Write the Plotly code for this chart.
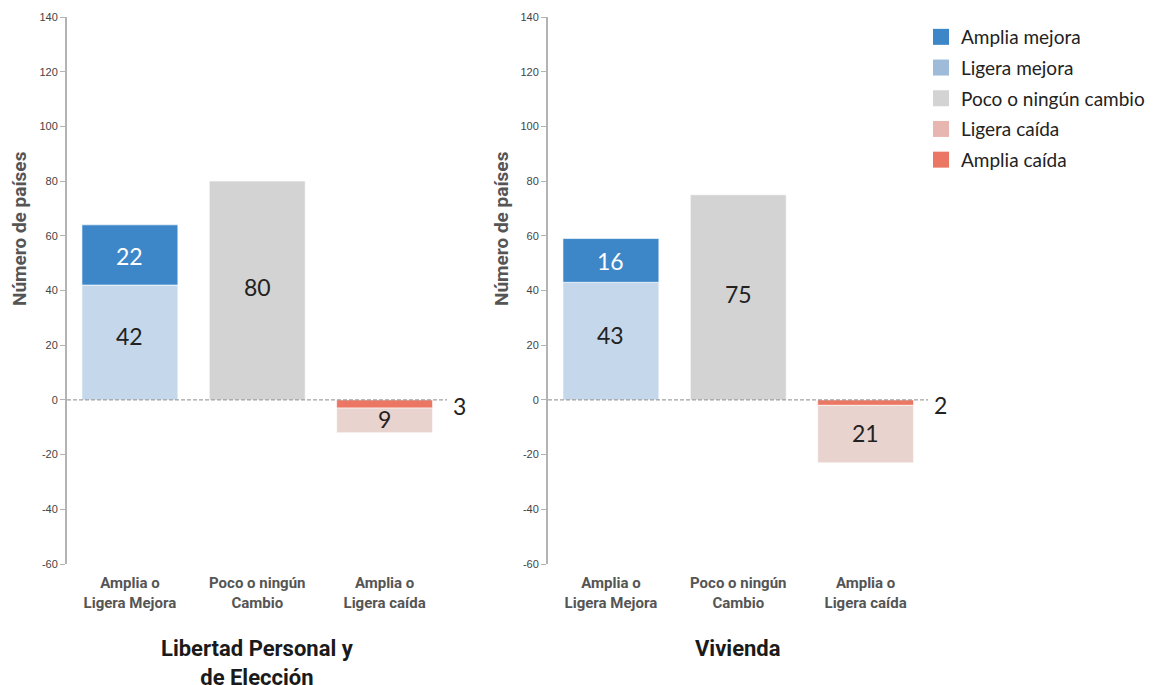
import plotly.graph_objects as go

# ---------------- data ----------------
categories = ["Amplia o<br>Ligera Mejora", "Poco o ningún<br>Cambio", "Amplia o<br>Ligera caída"]
panels = ["Libertad Personal y<br>de Elección", "Vivienda"]
amplia_mejora = [22, 16]
ligera_mejora = [42, 43]
poco_cambio = [80, 75]
ligera_caida = [9, 21]
amplia_caida = [3, 2]
series_names = ["Amplia mejora", "Ligera mejora", "Poco o ningún cambio", "Ligera caída", "Amplia caída"]
y_ticks = [-60, -40, -20, 0, 20, 40, 60, 80, 100, 120, 140]
y_title = "Número de países"

# ---------------- style ----------------
C_AM = "#3d87c8"
C_LM_BAR = "#c5d7ea"
C_LM_LEG = "#9ebcda"
C_PC = "#d3d3d3"
C_LC_BAR = "#e9d3cf"
C_LC_LEG = "#e8b6b0"
C_AC = "#ec7664"
W = 1160
H = 685
TICK_FONT = "Liberation Sans Narrow, Arial Narrow, sans-serif"
LABEL_FONT = "Lato, Open Sans, sans-serif"
BOLD_FONT = "Roboto, Arial, sans-serif"

fig = go.Figure()

x_domains = [[67 / W, 447 / W], [548 / W, 928 / W]]
y_domain = [1 - 564 / H, 1 - 17 / H]
bar_w = 0.753
line_style = dict(color="rgba(255,255,255,0.6)", width=1)

for i in range(2):
    xa = "x" if i == 0 else "x2"
    ya = "y" if i == 0 else "y2"
    # positives (bottom first)
    fig.add_trace(go.Bar(x=[categories[0]], y=[ligera_mejora[i]], marker=dict(color=C_LM_BAR, line=line_style),
                         width=bar_w, xaxis=xa, yaxis=ya, showlegend=False, hoverinfo="skip"))
    fig.add_trace(go.Bar(x=[categories[0]], y=[amplia_mejora[i]], marker=dict(color=C_AM, line=line_style),
                         width=bar_w, xaxis=xa, yaxis=ya, showlegend=False, hoverinfo="skip"))
    fig.add_trace(go.Bar(x=[categories[1]], y=[poco_cambio[i]], marker=dict(color=C_PC, line=line_style),
                         width=bar_w, xaxis=xa, yaxis=ya, showlegend=False, hoverinfo="skip"))
    # negatives (nearest zero first)
    fig.add_trace(go.Bar(x=[categories[2]], y=[-amplia_caida[i]], marker=dict(color=C_AC, line=line_style),
                         width=bar_w, xaxis=xa, yaxis=ya, showlegend=False, hoverinfo="skip"))
    fig.add_trace(go.Bar(x=[categories[2]], y=[-ligera_caida[i]], marker=dict(color=C_LC_BAR, line=line_style),
                         width=bar_w, xaxis=xa, yaxis=ya, showlegend=False, hoverinfo="skip"))

    # value labels
    label_font = dict(family=LABEL_FONT, size=23, color="#222222")
    fig.add_annotation(x=0, y=ligera_mejora[i] / 2, xref=xa, yref=ya, text=str(ligera_mejora[i]),
                       showarrow=False, font=label_font, yshift=6)
    fig.add_annotation(x=0, y=ligera_mejora[i] + amplia_mejora[i] / 2, xref=xa, yref=ya, text=str(amplia_mejora[i]),
                       showarrow=False, font=dict(family=LABEL_FONT, size=23, color="white"), yshift=-1)
    fig.add_annotation(x=1, y=poco_cambio[i] / 2, xref=xa, yref=ya, text=str(poco_cambio[i]),
                       showarrow=False, font=label_font, yshift=3)
    fig.add_annotation(x=2, y=-amplia_caida[i] - ligera_caida[i] / 2, xref=xa, yref=ya, text=str(ligera_caida[i]),
                       showarrow=False, font=label_font, yshift=1)
    fig.add_annotation(x=2.49, y=-amplia_caida[i] / 2, xref=xa, yref=ya, text=str(amplia_caida[i]),
                       showarrow=False, xanchor="left", xshift=4, yshift=-2, font=label_font)

    # dashed zero line
    fig.add_shape(type="line", xref=f"{xa} domain", yref=ya, x0=0, x1=1, y0=0, y1=0,
                  line=dict(color="#8a8a8a", width=1, dash="4px,2px"), layer="above")

    # panel title
    fig.add_annotation(x=1, y=1 - 634 / H, xref=xa, yref="paper", text="<b>" + panels[i] + "</b>",
                       showarrow=False, yanchor="top",
                       font=dict(family=BOLD_FONT, size=22, color="#1a1a1a"))
    # y axis title
    fig.add_annotation(x=(19 if i == 0 else 501) / W, y=1 - 229 / H, xref="paper", yref="paper",
                       xanchor="center", yanchor="middle",
                       text="<b>" + y_title + "</b>", textangle=-90, showarrow=False,
                       font=dict(family=BOLD_FONT, size=19, color="#555555"))

axis_x = dict(type="category", categoryorder="array", categoryarray=categories, range=[-0.494, 2.49],
              showline=False, ticks="", showgrid=False, zeroline=False, ticklabelstandoff=8,
              automargin=False,
              tickfont=dict(family=BOLD_FONT, size=15, color="#555555", weight="bold"))
axis_y = dict(range=[-60, 140], tickvals=y_ticks, ticktext=[str(v) for v in y_ticks],
              showgrid=False, zeroline=False, showline=True, automargin=False,
              linecolor="#b3b3b3", linewidth=2, ticks="outside", ticklen=5, tickcolor="#b3b3b3",
              tickfont=dict(family=TICK_FONT, size=11, color="#444444"), domain=y_domain)

fig.update_layout(
    xaxis=dict(axis_x, domain=x_domains[0], anchor="y"),
    xaxis2=dict(axis_x, domain=x_domains[1], anchor="y2"),
    yaxis=dict(axis_y, anchor="x"),
    yaxis2=dict(axis_y, anchor="x2"),
)

# legend entries
leg_colors = [C_AM, C_LM_LEG, C_PC, C_LC_LEG, C_AC]
for name, col in zip(series_names, leg_colors):
    fig.add_trace(go.Scatter(x=[None], y=[None], mode="markers", name=name,
                             marker=dict(symbol="square", size=18, color=col),
                             xaxis="x2", yaxis="y2", showlegend=True, legendgroup=name))

fig.update_layout(
    width=W, height=H,
    barmode="relative",
    bargap=0.25,
    plot_bgcolor="white",
    paper_bgcolor="white",
    margin=dict(l=0, r=0, t=0, b=0, autoexpand=False),
    legend=dict(x=921 / W, y=1 - 18 / H, xanchor="left", yanchor="top",
                font=dict(family=LABEL_FONT, size=19, color="#222222"),
                tracegroupgap=3, itemwidth=30, bgcolor="rgba(0,0,0,0)"),
)

fig.write_html("out.html", config={"displayModeBar": False},
               post_script="document.body.style.margin='0';")
